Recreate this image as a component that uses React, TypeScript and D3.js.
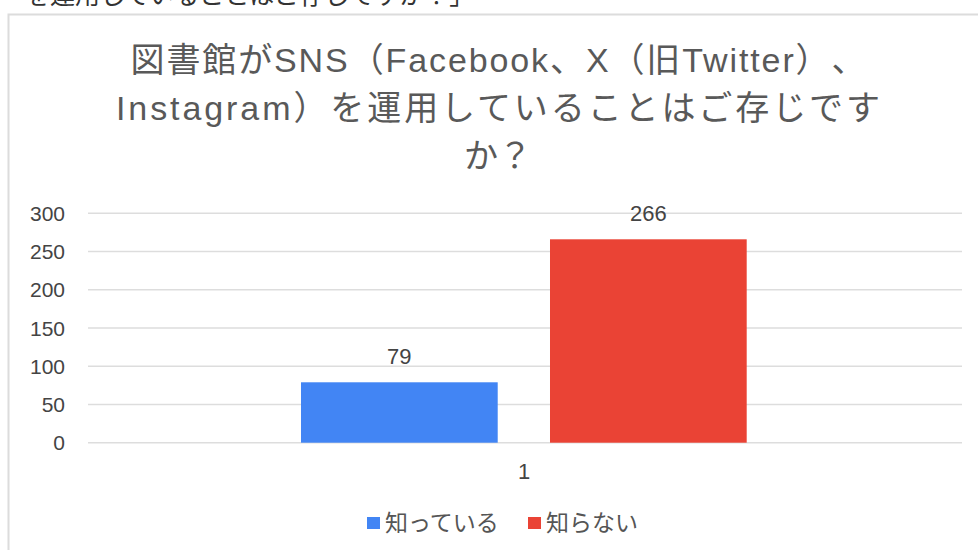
import React from "react";
import * as d3 from "d3";

const categories = ["1"];
const seriesNames = ["知っている", "知らない"];
const seriesValues = [79, 266];
const seriesColors = ["#4285F4", "#EA4335"];
const yTicks = [0, 50, 100, 150, 200, 250, 300];
const titleLines = [
  "図書館がSNS（Facebook、X（旧Twitter）、",
  "Instagram）を運用していることはご存じです",
  "か？",
];
const titleWidths = [735, 764, 0];
const topCutText = "を運用していることはご存じですか？」";

const W = 978;
const H = 550;
const FONT = '"Liberation Sans", Arial, "Noto Sans CJK JP", sans-serif';

export default function App() {
  const plotLeft = 88;
  const plotRight = 962;
  const y = d3.scaleLinear().domain([0, 300]).range([442.7, 213.3]);
  const x0 = d3.scaleBand().domain(categories).range([plotLeft, plotRight]).paddingInner(0).paddingOuter(0);
  const x1 = d3
    .scaleBand()
    .domain(seriesNames)
    .range([301 - plotLeft, 746.7 - plotLeft])
    .paddingInner(0.21)
    .paddingOuter(0);

  return (
    <svg
      width={W}
      height={H}
      style={{ position: "absolute", left: 0, top: 0, background: "#fff" }}
      fontFamily={FONT}
    >
      <text x={25} y={4} fontSize={25} fill="#333">
        {topCutText}
      </text>
      <rect x={8.5} y={14.5} width={W + 10} height={H} fill="#fff" stroke="#dcdcdc" strokeWidth={2} />
      {titleLines.map((t, i) => (
        <text
          key={i}
          x={titleWidths[i] ? 498 - titleWidths[i] / 2 : 498}
          y={72 + i * 48}
          fontSize={34}
          fill="#595959"
          style={{ textSpacingTrim: "space-all" } as any}
          textAnchor={titleWidths[i] ? "start" : "middle"}
          textLength={titleWidths[i] || undefined}
          lengthAdjust={titleWidths[i] ? "spacing" : undefined}
        >
          {t}
        </text>
      ))}
      {yTicks.map((v) => (
        <g key={v}>
          <line x1={plotLeft} x2={plotRight} y1={y(v)} y2={y(v)} stroke="#dddddd" strokeWidth={1.5} />
          <text x={65} y={y(v) + 7.5} fontSize={21} fill="#444" textAnchor="end">
            {v}
          </text>
        </g>
      ))}
      {categories.map((c) => (
        <g key={c}>
          {seriesNames.map((s, i) => {
            const bx = (x0(c) as number) + (x1(s) as number);
            const bw = x1.bandwidth();
            const v = seriesValues[i];
            return (
              <g key={s}>
                <rect x={bx} y={y(v)} width={bw} height={y(0) - y(v)} fill={seriesColors[i]} />
                <text x={bx + bw / 2} y={y(v) - 18} fontSize={22} fill="#444" textAnchor="middle">
                  {v}
                </text>
              </g>
            );
          })}
          <text x={524} y={479} fontSize={22} fill="#444" textAnchor="middle">
            {c}
          </text>
        </g>
      ))}
      {seriesNames.map((s, i) => {
        const lx = [367, 528][i];
        return (
          <g key={s}>
            <rect x={lx} y={517} width={13} height={12} fill={seriesColors[i]} />
            <text x={lx + 18} y={531} fontSize={23} fill="#555">
              {s}
            </text>
          </g>
        );
      })}
    </svg>
  );
}
